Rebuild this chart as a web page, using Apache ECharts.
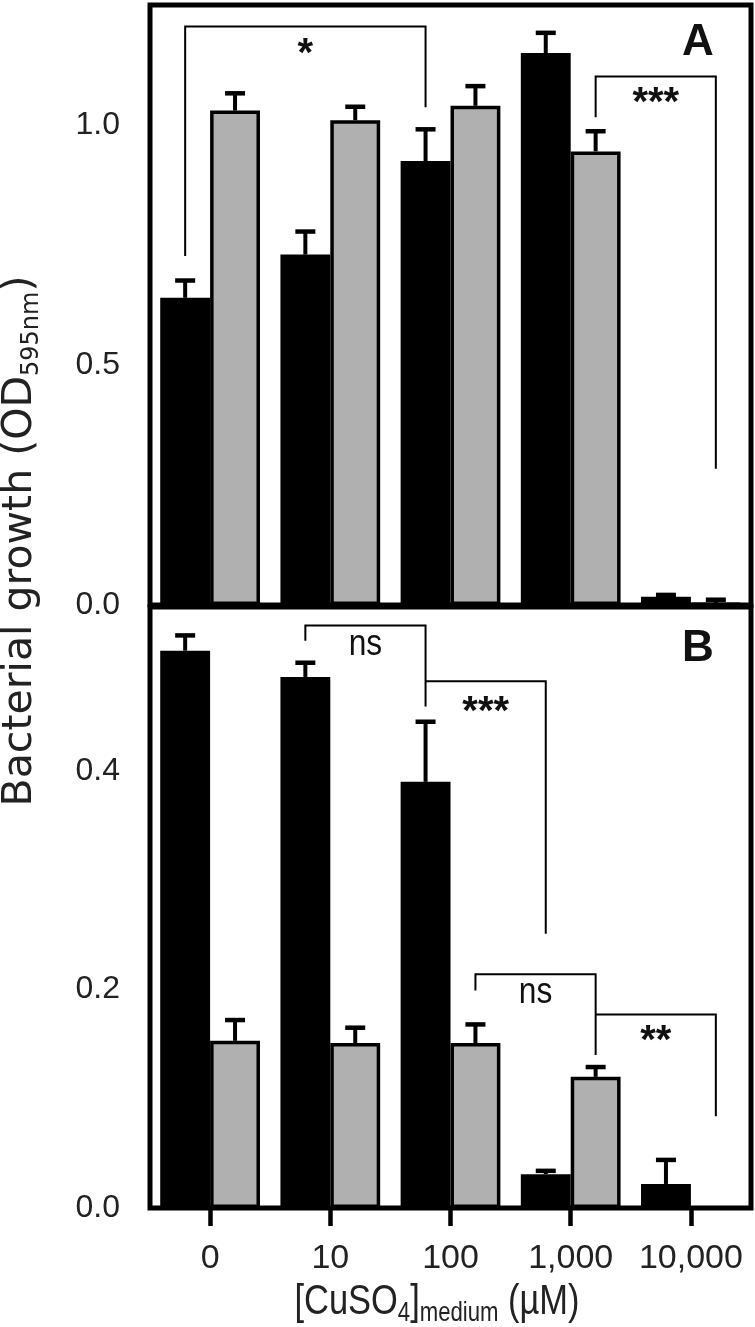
<!DOCTYPE html>
<html>
<head>
<meta charset="utf-8">
<script src="https://cdn.jsdelivr.net/npm/echarts@6/dist/echarts.min.js"></script>
<style>
  html, body { margin: 0; padding: 0; background: #fff; }
  #chart { width: 755px; height: 1327px; }
</style>
</head>
<body>
<div id="chart"></div>
<script>
// [CuSO4] in the medium (uM)
const concentrations = ['0', '10', '100', '1,000', '10,000'];

// panel A
const growthA_black = [0.64, 0.73, 0.925, 1.15, 0.017];
const errA_black = [0.036, 0.048, 0.066, 0.042, 0.004];
const growthA_gray = [1.03, 1.01, 1.04, 0.945, 0.003];
const errA_gray = [0.036, 0.028, 0.041, 0.042, 0.008];
const ticksA = [0, 0.5, 1.0];

// panel B
const growthB_black = [0.51, 0.486, 0.39, 0.031, 0.022];
const errB_black = [0.014, 0.013, 0.055, 0.003, 0.022];
const growthB_gray = [0.153, 0.151, 0.151, 0.12, 0];
const errB_gray = [0.019, 0.014, 0.017, 0.009, 0];
const ticksB = [0, 0.2, 0.4];

// brackets: [leftCat, leftSide, rightCat, rightSide, topY, leftEndY, rightEndY, labelY]
// side -1 = black bar, +1 = grey bar
const bracketsA = [
  [0, -1, 2, -1, 1.205, 0.727, 1.037, 1.166],
  [3, 1, 4, 1, 1.101, 1.016, 0.284, 1.063]
];
const bracketLabelsA = ['*', '***'];
const bracketsB = [
  [1, -1, 2, -1, 0.533, 0.519, 0.459, 0.512],
  [2, -1, 3, -1, 0.482, 0.482, 0.251, 0.461],
  [2, 1, 3, 1, 0.214, 0.199, 0.140, 0.194],
  [3, 1, 4, 1, 0.177, 0.177, 0.084, 0.160]
];
const bracketLabelsB = ['ns', '***', 'ns', '**'];

const CAT_GAP = 0.17;
const sans = "'Liberation Sans', Arial, sans-serif";
const dejavu = "'DejaVu Sans', sans-serif";

function errRows(vals, errs, side) {
  return vals.map((v, i) => [i, v, errs[i], side]);
}

function renderErr(params, api) {
  const cat = api.value(0), v = api.value(1), e = api.value(2), side = api.value(3);
  if (!e) return;
  const band = api.size([1, 0])[0];
  const barW = band * (1 - CAT_GAP) / 2;
  const p0 = api.coord([cat, v]);
  const p1 = api.coord([cat, v + e]);
  const x = p0[0] + side * barW / 2;
  return {
    type: 'group',
    children: [
      { type: 'line', shape: { x1: x, y1: p0[1], x2: x, y2: p1[1] }, style: { stroke: '#000', lineWidth: 4 } },
      { type: 'line', shape: { x1: x - 10, y1: p1[1], x2: x + 10, y2: p1[1] }, style: { stroke: '#000', lineWidth: 4.5 } }
    ]
  };
}

function bracketRenderer(labels) {
  return function (params, api) {
    const band = api.size([1, 0])[0];
    const half = band * (1 - CAT_GAP) / 4;
    const xl = api.coord([api.value(0), 0])[0] + api.value(1) * half;
    const xr = api.coord([api.value(2), 0])[0] + api.value(3) * half;
    const yt = api.coord([0, api.value(4)])[1];
    const yl = api.coord([0, api.value(5)])[1];
    const yr = api.coord([0, api.value(6)])[1];
    const ly = api.coord([0, api.value(7)])[1];
    const txt = labels[params.dataIndex];
    const star = txt.charAt(0) === '*';
    const fs = star ? 40 : 36;
    return {
      type: 'group',
      children: [
        { type: 'polyline', shape: { points: [[xl, yl], [xl, yt], [xr, yt], [xr, yr]] },
          style: { stroke: '#000', lineWidth: 2, fill: null } },
        { type: 'text', x: (xl + xr) / 2, y: ly + (star ? 0.23 * fs : -0.09 * fs), scaleX: star ? 1 : 0.88,
          style: { text: txt, fill: '#111', align: 'center', verticalAlign: 'middle',
            fontSize: fs, fontFamily: sans, fontWeight: star ? 'bold' : 'normal' } }
      ]
    };
  };
}

const yLabel = { fontSize: 32, fontFamily: sans, color: '#222', margin: 30, formatter: v => v.toFixed(1) };
const yTick = { length: 17, lineStyle: { color: '#000', width: 3.5 } };

const chart = echarts.init(document.getElementById('chart'));
chart.setOption({
  animation: false,
  grid: [
    { left: 150, right: 4, top: 5, height: 600, show: true, borderColor: '#000', borderWidth: 5, backgroundColor: 'transparent' },
    { left: 150, right: 4, top: 607, height: 601, show: true, borderColor: '#000', borderWidth: 5, backgroundColor: 'transparent' }
  ],
  xAxis: [
    { type: 'category', gridIndex: 0, data: concentrations, axisLine: { show: false },
      axisTick: { show: false }, axisLabel: { show: false } },
    { type: 'category', gridIndex: 1, data: concentrations, axisLine: { show: false },
      axisTick: { show: true, alignWithLabel: true, length: 18, lineStyle: { color: '#000', width: 4.5 } },
      axisLabel: { interval: 0, fontSize: 34, fontFamily: sans, color: '#222', margin: 34 } }
  ],
  yAxis: [
    { type: 'value', gridIndex: 0, min: 0, max: 1.25, axisLine: { show: false }, splitLine: { show: false },
      axisTick: Object.assign({ customValues: ticksA }, yTick),
      axisLabel: Object.assign({ customValues: ticksA }, yLabel) },
    { type: 'value', gridIndex: 1, min: 0, max: 0.55, axisLine: { show: false }, splitLine: { show: false },
      axisTick: Object.assign({ customValues: ticksB }, yTick),
      axisLabel: Object.assign({ customValues: ticksB }, yLabel) }
  ],
  series: [
    { type: 'bar', xAxisIndex: 0, yAxisIndex: 0, data: growthA_black, barGap: '0%', barCategoryGap: (CAT_GAP * 100) + '%',
      itemStyle: { color: '#000' } },
    { type: 'bar', xAxisIndex: 0, yAxisIndex: 0, data: growthA_gray,
      itemStyle: { color: '#b0b0b0', borderColor: '#000', borderWidth: 3.5 } },
    { type: 'bar', xAxisIndex: 1, yAxisIndex: 1, data: growthB_black, barGap: '0%', barCategoryGap: (CAT_GAP * 100) + '%',
      itemStyle: { color: '#000' } },
    { type: 'bar', xAxisIndex: 1, yAxisIndex: 1, data: growthB_gray,
      itemStyle: { color: '#b0b0b0', borderColor: '#000', borderWidth: 3.5 } },
    { type: 'custom', xAxisIndex: 0, yAxisIndex: 0, renderItem: renderErr, clip: false, z: 5,
      encode: { x: 0, y: 1 }, data: errRows(growthA_black, errA_black, -1).concat(errRows(growthA_gray, errA_gray, 1)) },
    { type: 'custom', xAxisIndex: 1, yAxisIndex: 1, renderItem: renderErr, clip: false, z: 5,
      encode: { x: 0, y: 1 }, data: errRows(growthB_black, errB_black, -1).concat(errRows(growthB_gray, errB_gray, 1)) },
    { type: 'custom', xAxisIndex: 0, yAxisIndex: 0, renderItem: bracketRenderer(bracketLabelsA), clip: false, z: 6,
      encode: { x: 0, y: 4 }, data: bracketsA },
    { type: 'custom', xAxisIndex: 1, yAxisIndex: 1, renderItem: bracketRenderer(bracketLabelsB), clip: false, z: 6,
      encode: { x: 0, y: 4 }, data: bracketsB }
  ],
  graphic: [
    { type: 'text', x: 698, y: 43, style: { text: 'A', fontSize: 44, fontWeight: 'bold', fontFamily: sans,
      fill: '#111', align: 'center', verticalAlign: 'middle' } },
    { type: 'text', x: 698, y: 649, style: { text: 'B', fontSize: 44, fontWeight: 'bold', fontFamily: sans,
      fill: '#111', align: 'center', verticalAlign: 'middle' } },
    { type: 'text', x: 20, y: 541, rotation: Math.PI / 2,
      style: { text: '{a|Bacterial growth (OD}{s|595nm}{a|)}', align: 'center', verticalAlign: 'middle',
        rich: {
          a: { fontSize: 41, fontFamily: dejavu, fill: '#222', lineHeight: 48, verticalAlign: 'middle' },
          s: { fontSize: 24, fontFamily: dejavu, fill: '#222', lineHeight: 48, verticalAlign: 'bottom' }
        } } },
    { type: 'text', x: 437, y: 1302, scaleX: 0.82,
      style: { text: '{a|[CuSO}{s|4}{a|]}{s|medium}{a| (µM)}', align: 'center', verticalAlign: 'middle',
        rich: {
          a: { fontSize: 42, fontFamily: sans, fill: '#222', lineHeight: 50, verticalAlign: 'middle' },
          s: { fontSize: 27, fontFamily: sans, fill: '#222', lineHeight: 50, verticalAlign: 'bottom' }
        } } }
  ]
});
</script>
</body>
</html>
